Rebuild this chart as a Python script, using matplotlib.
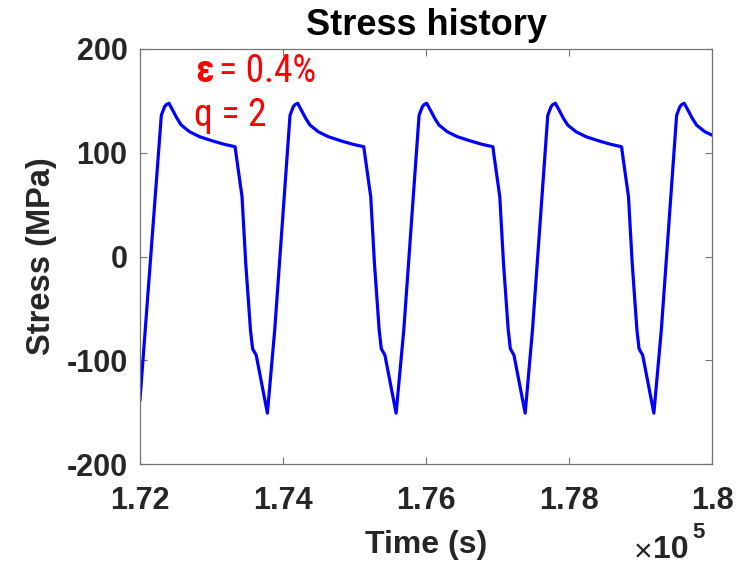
import matplotlib
matplotlib.use("Agg")
import matplotlib.pyplot as plt
from matplotlib import font_manager

# ---------------- data ----------------
time_s = [
    # cycle 1
    172000, 172298, 172325, 172344, 172370, 172405,
    172430, 172461, 172517, 172577, 172692, 172832, 173019, 173180, 173330,
    173349, 173427, 173479, 173545, 173575, 173625, 173782,
    # cycle 2
    173884, 174098, 174125, 174144, 174170, 174205,
    174230, 174261, 174317, 174377, 174492, 174632, 174819, 174980, 175130,
    175149, 175227, 175279, 175345, 175375, 175425, 175582,
    # cycle 3
    175689, 175903, 175930, 175949, 175975, 176010,
    176035, 176066, 176122, 176182, 176297, 176437, 176624, 176785, 176935,
    176954, 177032, 177084, 177150, 177180, 177230, 177387,
    # cycle 4
    177489, 177703, 177730, 177749, 177775, 177810,
    177835, 177866, 177922, 177982, 178097, 178237, 178424, 178585, 178735,
    178754, 178832, 178884, 178950, 178980, 179030, 179187,
    # cycle 5
    179291, 179505, 179532, 179551, 179577, 179612,
    179637, 179668, 179724, 179784, 179899, 180000,
]
stress_mpa = [
    -138, 136, 141, 144.4, 146.5, 147.7,
    144.5, 140.5, 133.2, 126.7, 120.3, 115.5, 111.3, 108.1, 105.8,
    96, 57.6, -6.6, -70.8, -89, -95, -151,
    -71, 136, 141, 144.4, 146.5, 147.7,
    144.5, 140.5, 133.2, 126.7, 120.3, 115.5, 111.3, 108.1, 105.8,
    96, 57.6, -6.6, -70.8, -89, -95, -151,
    -71, 136, 141, 144.4, 146.5, 147.7,
    144.5, 140.5, 133.2, 126.7, 120.3, 115.5, 111.3, 108.1, 105.8,
    96, 57.6, -6.6, -70.8, -89, -95, -151,
    -71, 136, 141, 144.4, 146.5, 147.7,
    144.5, 140.5, 133.2, 126.7, 120.3, 115.5, 111.3, 108.1, 105.8,
    96, 57.6, -6.6, -70.8, -89, -95, -151,
    -71, 136, 141, 144.4, 146.5, 147.7,
    144.5, 140.5, 133.2, 126.7, 120.3, 117,
]

x_ticks = [172000, 174000, 176000, 178000, 180000]
x_tick_labels = ["1.72", "1.74", "1.76", "1.78", "1.8"]
y_ticks = [-200, -100, 0, 100, 200]
y_tick_labels = ["-200", "-100", "0", "100", "200"]

title = "Stress history"
x_label = "Time (s)"
y_label = "Stress (MPa)"
annot_symbol = "\u03b5"
annot_rest = "= 0.4%"
annot_line2 = "q = 2"

# ---------------- fonts ----------------
available = {f.name for f in font_manager.fontManager.ttflist}
main_font = "Liberation Sans" if "Liberation Sans" in available else "DejaVu Sans"
narrow_font = main_font
for cand in ["Liberation Sans Narrow", "Roboto Condensed", "DejaVu Sans Condensed"]:
    if cand in available:
        narrow_font = cand
        break
plt.rcParams["font.family"] = [main_font, "DejaVu Sans"]

W, H, DPI = 744, 567, 100
fig = plt.figure(figsize=(W / DPI, H / DPI), dpi=DPI)
ax = fig.add_axes([140 / W, 1 - 464 / H, (712 - 140) / W, (464 - 49) / H])

ax.plot(time_s, stress_mpa, color=(0, 0, 1), lw=2.3, solid_joinstyle="round")

ax.set_xlim(172000, 180000)
ax.set_ylim(-200, 200)
ax.set_xticks(x_ticks)
ax.set_xticklabels(x_tick_labels)
ax.set_yticks(y_ticks)
ax.set_yticklabels(y_tick_labels)

axcol = (0.15, 0.15, 0.15)
for sp in ax.spines.values():
    sp.set_color((0.45, 0.45, 0.45))
    sp.set_linewidth(0.9)
ax.tick_params(direction="in", length=5, width=0.8, color=(0.45, 0.45, 0.45),
               top=True, right=True, labelsize=22, labelcolor=axcol)
ax.tick_params(axis="x", pad=16)
ax.tick_params(axis="y", pad=9)
for lab in ax.get_xticklabels() + ax.get_yticklabels():
    lab.set_fontweight("bold")

ax.set_title(title, fontsize=26, fontweight="bold", color="black", pad=10)
ax.set_xlabel(x_label, fontsize=23, fontweight="bold", color=axcol, labelpad=10)
ax.set_ylabel(y_label, fontsize=23.5, fontweight="bold", color=axcol, labelpad=7)

# exponent multiplier
fig.text(653 / W, 1 - 553 / H, "\u00d7", fontsize=23, color=axcol,
         ha="right", va="center")
fig.text(653 / W, 1 - 550 / H, "10", fontsize=23, fontweight="bold", color=axcol,
         ha="left", va="center")
fig.text(692 / W, 1 - 532 / H, "5", fontsize=16, fontweight="bold", color=axcol,
         ha="left", va="center")

# annotation
afam = [narrow_font, "DejaVu Sans"]
fig.text(195 / W, 1 - 72 / H, annot_symbol, fontsize=27, color="red",
         fontweight="bold", family=afam, ha="left", va="center")
fig.text(219 / W, 1 - 72 / H, annot_rest, fontsize=27, color="red",
         family=afam, ha="left", va="center")
fig.text(194 / W, 1 - 116 / H, annot_line2, fontsize=27, color="red",
         family=afam, ha="left", va="center")

fig.savefig("out.png", dpi=DPI)
